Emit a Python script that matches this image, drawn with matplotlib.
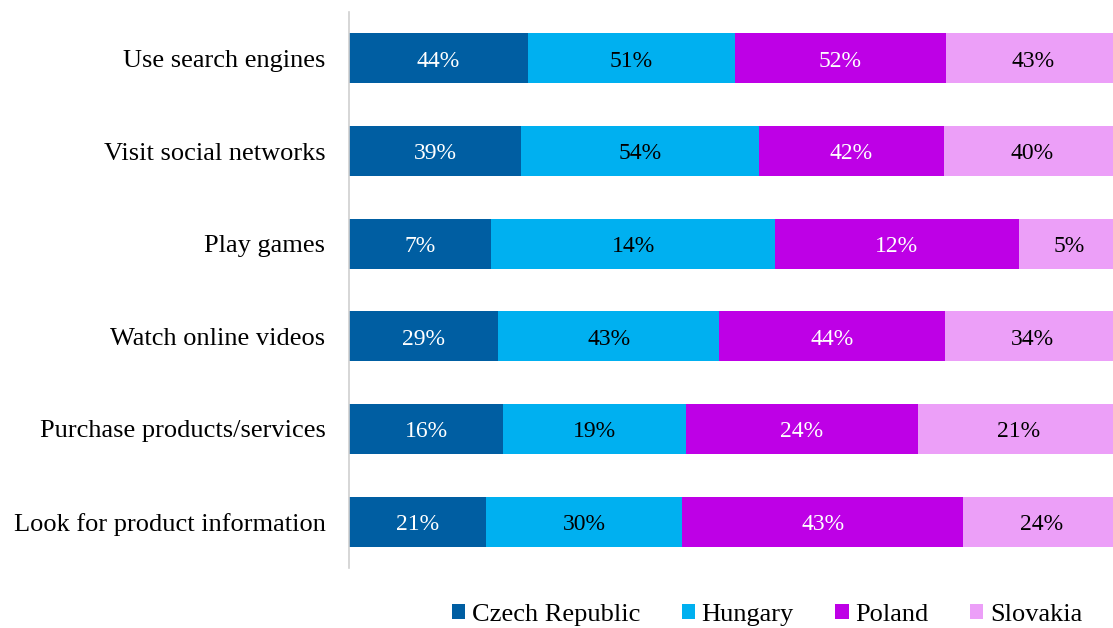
import numpy as np
from matplotlib import pyplot as plt
from matplotlib.patches import Patch

plt.rcParams['font.family'] = ['Liberation Serif', 'DejaVu Serif']

categories = ['Use search engines', 'Visit social networks', 'Play games',
              'Watch online videos', 'Purchase products/services', 'Look for product information']
countries = ['Czech Republic', 'Hungary', 'Poland', 'Slovakia']
czech = [44, 39, 7, 29, 16, 21]
hungary = [51, 54, 14, 43, 19, 30]
poland = [52, 42, 12, 44, 24, 43]
slovakia = [43, 40, 5, 34, 21, 24]

colors = ['#005EA2', '#00B0F0', '#BE00E6', '#EC9FF8']
text_colors = ['white', 'black', 'white', 'black']

series = np.array([czech, hungary, poland, slovakia], dtype=float)
totals = series.sum(axis=0)
shares = series / totals

fig = plt.figure(figsize=(11.13, 6.28), dpi=100)
# plot area runs a little past the right edge of the image, like the original
ax = fig.add_axes([349 / 1113, 1 - 568 / 628, 771 / 1113, 556 / 628])

y = np.arange(len(categories))
left = np.zeros(len(categories))
for i, name in enumerate(countries):
    ax.barh(y, shares[i], left=left, height=0.54, color=colors[i], label=name)
    for j in range(len(categories)):
        ax.text(left[j] + shares[i][j] / 2, y[j] + 0.03, f'{int(series[i][j])}%',
                ha='center', va='center', color=text_colors[i], fontsize=17)
    left += shares[i]

ax.set_xlim(0, 1)
ax.set_ylim(len(categories) - 0.5, -0.5)
ax.set_yticks(y)
ax.set_yticklabels(categories, fontsize=19)
ax.set_xticks([])
ax.tick_params(axis='y', length=0, pad=17)
for side in ['top', 'right', 'bottom']:
    ax.spines[side].set_visible(False)
ax.spines['left'].set_color('#D0D0D0')
ax.spines['left'].set_linewidth(1.2)

handles = [Patch(facecolor=c, label=n) for c, n in zip(colors, countries)]
fig.legend(handles=handles, loc='center', bbox_to_anchor=(767 / 1113, 1 - 615 / 628), ncol=4,
           frameon=False, fontsize=19, handlelength=0.5, handleheight=0.5,
           handletextpad=0.25, columnspacing=1.58)

plt.savefig('out.png', dpi=100)
